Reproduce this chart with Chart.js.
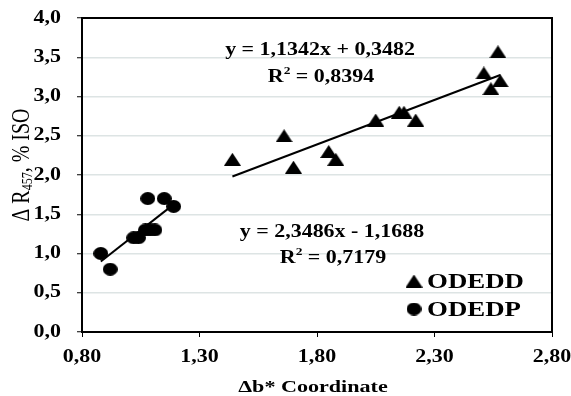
<!DOCTYPE html>
<html>
<head>
<meta charset="utf-8">
<script src="https://cdn.jsdelivr.net/npm/chart.js@4.4.0/dist/chart.umd.min.js"></script>
<style>
  html, body { margin: 0; padding: 0; background: #fff; }
  #wrap { width: 571px; height: 396px; }
</style>
</head>
<body>
<div id="wrap"><canvas id="chart" width="571" height="396"></canvas></div>
<script>
// Axis ticks
const xTicks = [0.8, 1.3, 1.8, 2.3, 2.8];
const yTicks = [0, 0.5, 1.0, 1.5, 2.0, 2.5, 3.0, 3.5, 4.0];

// ODEDD series (triangles)
const odeddX = [1.44, 1.66, 1.70, 1.85, 1.88, 2.05, 2.15, 2.17, 2.22, 2.51, 2.54, 2.58, 2.57];
const odeddY = [2.2, 2.5, 2.1, 2.3, 2.2, 2.7, 2.8, 2.8, 2.7, 3.3, 3.1, 3.2, 3.57];

// ODEDP series (circles)
const odedpX = [0.88, 0.92, 1.02, 1.04, 1.07, 1.09, 1.11, 1.08, 1.15, 1.19];
const odedpY = [1.0, 0.8, 1.2, 1.2, 1.3, 1.3, 1.3, 1.7, 1.7, 1.6];

// Trendline coefficients (slope, intercept) and texts as printed
const odeddFit = [1.1342, 0.3482];
const odedpFit = [2.3486, -1.1688];
const odeddEq = 'y = 1,1342x + 0,3482';
const odeddR2 = '0,8394';
const odedpEq = 'y = 2,3486x - 1,1688';
const odedpR2 = '0,7179';

const SERIF = '"Liberation Serif", "Times New Roman", serif';
const SX = 1.22; // the reference text is stretched horizontally

function toPoints(xs, ys) {
    return xs.map((x, i) => ({ x: x, y: ys[i] }));
}

function fitLine(xs, fit) {
    const lo = Math.min(...xs), hi = Math.max(...xs);
    return [{ x: lo, y: fit[0] * lo + fit[1] }, { x: hi, y: fit[0] * hi + fit[1] }];
}

function comma(v, d) {
    return v.toFixed(d).replace('.', ',');
}

// marker images (wider than tall, like the reference)
function triangleMarker(w, h) {
    const c = document.createElement('canvas');
    c.width = w; c.height = h;
    const g = c.getContext('2d');
    g.fillStyle = '#000';
    g.beginPath();
    g.moveTo(w / 2, 0);
    g.lineTo(w, h);
    g.lineTo(0, h);
    g.closePath();
    g.fill();
    return c;
}

function circleMarker(w, h) {
    const c = document.createElement('canvas');
    c.width = w; c.height = h;
    const g = c.getContext('2d');
    g.fillStyle = '#000';
    g.beginPath();
    g.ellipse(w / 2, h / 2, w / 2, h / 2, 0, 0, Math.PI * 2);
    g.fill();
    return c;
}

const triImg = triangleMarker(17, 13);
const dotImg = circleMarker(15, 13);

// draw a list of text parts ({t, pos: 'sup'|'sub'})
function richText(ctx, parts, x, y, size, weight, align, sx) {
    ctx.save();
    ctx.translate(x, y);
    ctx.scale(sx, 1);
    ctx.textBaseline = 'middle';
    ctx.textAlign = 'left';
    let total = 0;
    const widths = parts.map(p => {
        const s = p.pos ? Math.round(size * 0.62) : size;
        ctx.font = weight + ' ' + s + 'px ' + SERIF;
        const w = ctx.measureText(p.t).width;
        total += w;
        return w;
    });
    let cx = align === 'center' ? -total / 2 : (align === 'right' ? -total : 0);
    parts.forEach((p, i) => {
        const s = p.pos ? Math.round(size * 0.62) : size;
        ctx.font = weight + ' ' + s + 'px ' + SERIF;
        let dy = 0;
        if (p.pos === 'sup') dy = -size * 0.3;
        if (p.pos === 'sub') dy = size * 0.22;
        ctx.fillStyle = '#000';
        ctx.fillText(p.t, cx, dy);
        cx += widths[i];
    });
    ctx.restore();
}

const decorPlugin = {
    id: 'decor',
    afterDraw(chart) {
        const ctx = chart.ctx;
        const a = chart.chartArea;
        const xs = chart.scales.x, ys = chart.scales.y;

        // frame
        ctx.save();
        ctx.strokeStyle = '#000';
        ctx.lineWidth = 2;
        ctx.strokeRect(a.left, a.top, a.right - a.left, a.bottom - a.top);
        ctx.restore();

        // tick labels
        yTicks.forEach(v => {
            richText(ctx, [{ t: comma(v, 1) }], a.left - 21, ys.getPixelForValue(v), 18, 'bold', 'right', SX);
        });
        xTicks.forEach(v => {
            richText(ctx, [{ t: comma(v, 2) }], xs.getPixelForValue(v), a.bottom + 25, 18, 'bold', 'center', SX);
        });

        // axis titles
        richText(ctx, [{ t: '\u0394b* Coordinate' }], 313, 388, 17, 'bold', 'center', 1.3);
        ctx.save();
        ctx.translate(23, 165);
        ctx.rotate(-Math.PI / 2);
        ctx.scale(1, SX);
        richText(ctx, [{ t: '\u0394 R' }, { t: '457', pos: 'sub' }, { t: ', % ISO' }], 0, 0, 20, 'normal', 'center', 1);
        ctx.restore();

        // trendline equations
        richText(ctx, [{ t: odeddEq }], 320, 50, 18, 'bold', 'center', SX);
        richText(ctx, [{ t: 'R' }, { t: '2', pos: 'sup' }, { t: ' = ' + odeddR2 }], 321, 77, 18, 'bold', 'center', SX);
        richText(ctx, [{ t: odedpEq }], 332, 232, 18, 'bold', 'center', SX);
        richText(ctx, [{ t: 'R' }, { t: '2', pos: 'sup' }, { t: ' = ' + odedpR2 }], 333, 258, 18, 'bold', 'center', SX);

        // legend
        ctx.drawImage(triImg, 414 - 8.5, 281 - 6.5);
        ctx.drawImage(dotImg, 414 - 7.5, 309 - 6.5);
        richText(ctx, [{ t: 'ODEDD' }], 427, 282, 22, 'bold', 'left', SX);
        richText(ctx, [{ t: 'ODEDP' }], 427, 310, 22, 'bold', 'left', SX);
    }
};

const ctx = document.getElementById('chart').getContext('2d');
new Chart(ctx, {
    type: 'scatter',
    data: {
        datasets: [
            {
                label: 'ODEDD',
                data: toPoints(odeddX, odeddY),
                pointStyle: triImg,
                pointRadius: 8,
                pointHoverRadius: 8,
                backgroundColor: '#000',
                borderColor: '#000'
            },
            {
                label: 'ODEDP',
                data: toPoints(odedpX, odedpY),
                pointStyle: dotImg,
                pointRadius: 7,
                pointHoverRadius: 7,
                backgroundColor: '#000',
                borderColor: '#000'
            },
            {
                type: 'line',
                label: 'ODEDD trend',
                data: fitLine(odeddX, odeddFit),
                borderColor: '#000',
                borderWidth: 2,
                pointRadius: 0,
                fill: false
            },
            {
                type: 'line',
                label: 'ODEDP trend',
                data: fitLine(odedpX, odedpFit),
                borderColor: '#000',
                borderWidth: 2,
                pointRadius: 0,
                fill: false
            }
        ]
    },
    options: {
        responsive: false,
        animation: false,
        devicePixelRatio: 1,
        layout: { padding: { left: 0, right: 19, top: 18, bottom: 0 } },
        plugins: {
            legend: { display: false },
            tooltip: { enabled: false }
        },
        scales: {
            x: {
                type: 'linear',
                min: 0.8,
                max: 2.8,
                afterBuildTicks: function(scale) {
                    scale.ticks = xTicks.map(v => ({ value: v }));
                },
                afterFit: function(scale) {
                    scale.height = 64;
                },
                ticks: { display: false },
                grid: {
                    drawOnChartArea: false,
                    drawTicks: true,
                    tickLength: 5,
                    tickColor: '#000',
                    tickWidth: 1
                },
                border: { color: '#000', width: 2 }
            },
            y: {
                min: 0,
                max: 4,
                afterBuildTicks: function(scale) {
                    scale.ticks = yTicks.map(v => ({ value: v }));
                },
                afterFit: function(scale) {
                    scale.width = 82;
                },
                ticks: { display: false },
                grid: {
                    color: '#dde4e4',
                    lineWidth: 1.5,
                    drawTicks: true,
                    tickLength: 5,
                    tickColor: '#000',
                    tickWidth: 1
                },
                border: { color: '#000', width: 2 }
            }
        }
    },
    plugins: [decorPlugin]
});
</script>
</body>
</html>
